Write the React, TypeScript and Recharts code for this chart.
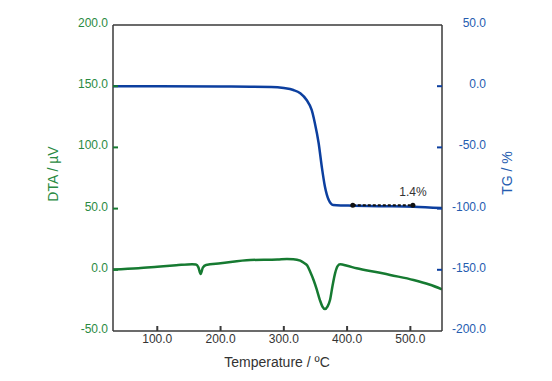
import * as React from "react";
import { Line, LineChart, ReferenceDot, ReferenceLine, XAxis, YAxis } from "recharts";

// DTA curve (µV)
const DTA_TEMPS = [30, 70, 100, 130, 155, 161, 165, 168.5, 172, 177, 200, 247, 290, 305, 315, 326, 332, 337, 342, 347, 352, 357, 361, 365, 369, 373, 377, 381, 385, 389, 400, 415, 452, 468, 505, 530, 550];
const DTA_VALUES = [0.3, 1.3, 2.5, 3.7, 4.6, 4.3, 2.0, -3.4, 1.8, 4.0, 5.3, 8.0, 8.4, 8.8, 8.7, 7.5, 5.5, 3.5, -2, -8.3, -16, -24.7, -30, -32, -30, -24.7, -13, -2.9, 3, 4.5, 3.3, 1.2, -2.4, -4.2, -8.3, -12, -15.9];

// TG curve (%)
const TG_TEMPS = [30, 100, 200, 280, 300, 315, 326, 336, 344, 349, 355, 360, 365, 371, 378, 390, 410, 450, 505, 550];
const TG_VALUES = [0, 0, -0.2, -0.6, -1.5, -3.1, -5.8, -11.3, -19.4, -30, -46.4, -65.8, -82.1, -93, -97.1, -97.5, -97.6, -98, -98.4, -99.6];

const X_TICKS = [100, 200, 300, 400, 500];
const DTA_TICKS = [-50, 0, 50, 100, 150, 200];
const TG_TICKS = [-200, -150, -100, -50, 0, 50];

// 1.4% mass-loss marker
const LOSS_START = 409;
const LOSS_END = 504;
const LOSS_LEVEL = -97.2;
const LOSS_TEXT = "1.4%";

const dtaData = DTA_TEMPS.map((t, i) => ({ t, v: DTA_VALUES[i] }));
const tgData = TG_TEMPS.map((t, i) => ({ t, v: TG_VALUES[i] }));

const FONT = "'Liberation Sans', Arial, sans-serif";
const GREEN = "#167a31";
const GREEN_TEXT = "#2a8a42";
const BLUE = "#0c3f9f";
const BLUE_TEXT = "#255cb0";
const FRAME = "#3a3a3a";
const DARK_TEXT = "#333";

const PLOT_LEFT = 113;
const PLOT_RIGHT = 442;
const PLOT_BOTTOM = 331;

const fmt = (v: number) => v.toFixed(1);

function LeftTick({ y, payload }: any) {
  const edge = payload.value === 200 || payload.value === -50;
  return (
    <g>
      {!edge && <line x1={PLOT_LEFT} x2={PLOT_LEFT + 5} y1={y} y2={y} stroke={GREEN} strokeWidth={2} />}
      <text x={PLOT_LEFT - 5} y={y + 2} textAnchor="end" fontSize={12} fontFamily={FONT} fill={GREEN_TEXT}>
        {fmt(payload.value)}
      </text>
    </g>
  );
}

function RightTick({ y, payload }: any) {
  const edge = payload.value === 50 || payload.value === -200;
  return (
    <g>
      {!edge && <line x1={PLOT_RIGHT - 5} x2={PLOT_RIGHT} y1={y} y2={y} stroke={BLUE} strokeWidth={2} />}
      <text x={PLOT_RIGHT + 44} y={y + 2} textAnchor="end" fontSize={12} fontFamily={FONT} fill={BLUE_TEXT}>
        {fmt(payload.value)}
      </text>
    </g>
  );
}

function BottomTick({ x, payload }: any) {
  return (
    <g>
      <line x1={x} x2={x} y1={PLOT_BOTTOM - 5} y2={PLOT_BOTTOM} stroke={FRAME} strokeWidth={2} />
      <text x={x} y={PLOT_BOTTOM + 12} textAnchor="middle" fontSize={12} fontFamily={FONT} fill={DARK_TEXT}>
        {fmt(payload.value)}
      </text>
    </g>
  );
}

const xTitle = () => (
  <text x={277} y={367} textAnchor="middle" fontSize={14} fontFamily={FONT} fill={DARK_TEXT}>
    Temperature / ºC
  </text>
);
const dtaTitle = () => (
  <text x={58} y={174} transform="rotate(-90 58 174)" textAnchor="middle" fontSize={14} fontFamily={FONT} fill={GREEN_TEXT}>
    DTA / µV
  </text>
);
const tgTitle = () => (
  <text x={512} y={173} transform="rotate(-90 512 173)" textAnchor="middle" fontSize={14} fontFamily={FONT} fill={BLUE_TEXT}>
    TG / %
  </text>
);

export default function App() {
  return (
    <div style={{ position: "absolute", left: 0, top: 0, background: "#fff" }}>
      <LineChart width={552} height={381} margin={{ top: 25, right: 40, left: 40, bottom: 0 }} style={{ fontFamily: FONT }}>
        <XAxis
          dataKey="t"
          type="number"
          domain={[30, 550]}
          ticks={X_TICKS}
          allowDataOverflow
          height={50}
          tickLine={false}
          tick={<BottomTick />}
          axisLine={{ stroke: FRAME, strokeWidth: 1.5 }}
          label={xTitle}
        />
        <YAxis
          yAxisId="dta"
          orientation="left"
          domain={[-50, 200]}
          ticks={DTA_TICKS}
          width={73}
          tickLine={false}
          tick={<LeftTick />}
          axisLine={{ stroke: FRAME, strokeWidth: 1.5 }}
          label={dtaTitle}
        />
        <YAxis
          yAxisId="tg"
          orientation="right"
          domain={[-200, 50]}
          ticks={TG_TICKS}
          width={70}
          tickLine={false}
          tick={<RightTick />}
          axisLine={{ stroke: FRAME, strokeWidth: 1.5 }}
          label={tgTitle}
        />
        <ReferenceLine yAxisId="dta" y={200} stroke={FRAME} strokeWidth={1.5} />
        <Line
          yAxisId="dta"
          data={dtaData}
          dataKey="v"
          type="monotone"
          stroke={GREEN}
          strokeWidth={2.5}
          dot={false}
          isAnimationActive={false}
        />
        <Line
          yAxisId="tg"
          data={tgData}
          dataKey="v"
          type="monotone"
          stroke={BLUE}
          strokeWidth={2.5}
          dot={false}
          isAnimationActive={false}
        />
        <ReferenceLine
          yAxisId="tg"
          segment={[
            { x: LOSS_START, y: LOSS_LEVEL },
            { x: LOSS_END, y: LOSS_LEVEL },
          ]}
          stroke="#111"
          strokeWidth={2}
          strokeDasharray="3 2"
        />
        <ReferenceDot yAxisId="tg" x={LOSS_START} y={LOSS_LEVEL} r={2.5} fill="#111" stroke="none" />
        <ReferenceDot yAxisId="tg" x={LOSS_END} y={LOSS_LEVEL} r={2.5} fill="#111" stroke="none" />
        <ReferenceDot
          yAxisId="tg"
          x={LOSS_END}
          y={-86}
          r={0}
          stroke="none"
          label={{ value: LOSS_TEXT, position: "center", fill: DARK_TEXT, fontSize: 12, fontFamily: FONT }}
        />
      </LineChart>
    </div>
  );
}
